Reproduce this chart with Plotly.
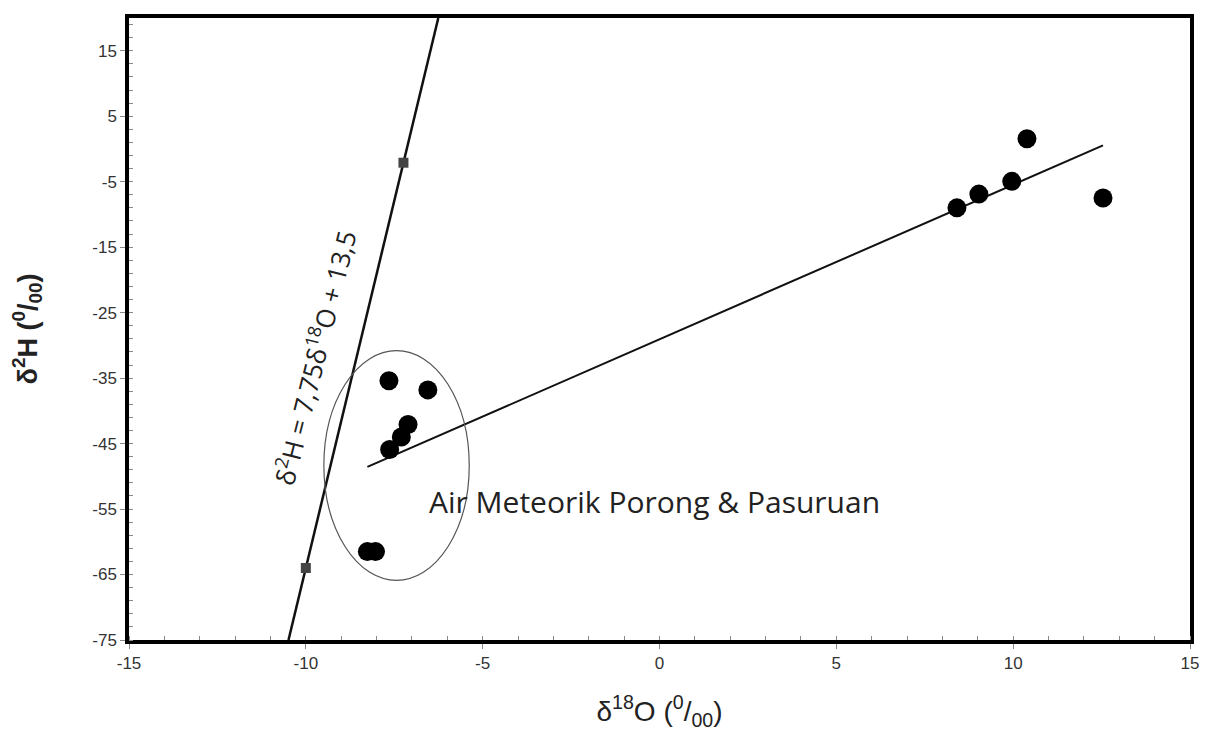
import numpy as np
import plotly.graph_objects as go

# Sample data (delta 18O, delta 2H)
sample_d18O = [-7.65, -6.55, -7.11, -7.30, -7.63, -8.26, -8.03,
               8.41, 9.03, 9.96, 10.39, 12.54]
sample_d2H = [-35.4, -36.8, -42.1, -44.0, -45.9, -61.5, -61.5,
              -9.0, -6.9, -4.95, 1.55, -7.5]

# Meteoric water line reference points
mwl_d18O = [-10.0, -7.24]
mwl_d2H = [-64.0, -2.1]

x_range = [-15, 15]
y_range = [-75, 20]
x_ticks = [-15, -10, -5, 0, 5, 10, 15]
x_ticklabels = ["-15", "-10", "-5", "0", "5", "10", "15"]
y_ticks = [15, 5, -5, -15, -25, -35, -45, -55, -65, -75]
y_ticklabels = ["15", "5", "-5", "-15", "-25", "-35", "-45", "-55", "-65", "-75"]

# MWL line extended across the plot (fit through reference points)
m1, b1 = np.polyfit(mwl_d18O, mwl_d2H, 1)
mwl_line_y = np.array(y_range, dtype=float)
mwl_line_x = (mwl_line_y - b1) / m1

# Regression of samples
m2, b2 = np.polyfit(sample_d18O, sample_d2H, 1)
reg_x = np.array([min(sample_d18O), max(sample_d18O)])
reg_y = m2 * reg_x + b2

fig = go.Figure()
fig.add_trace(go.Scatter(x=mwl_line_x, y=mwl_line_y, mode="lines",
                         line=dict(color="#111111", width=2.5), showlegend=False))
fig.add_trace(go.Scatter(x=mwl_d18O, y=mwl_d2H, mode="markers",
                         marker=dict(symbol="square", size=10, color="#444444"),
                         showlegend=False))
fig.add_trace(go.Scatter(x=reg_x, y=reg_y, mode="lines",
                         line=dict(color="#111111", width=2), showlegend=False))
fig.add_trace(go.Scatter(x=sample_d18O, y=sample_d2H, mode="markers",
                         marker=dict(symbol="circle", size=19, color="#000000"),
                         showlegend=False))

# Ellipse around meteoric samples
fig.add_shape(type="circle", xref="x", yref="y", x0=-9.49, x1=-5.38, y0=-65.9, y1=-30.8,
              line=dict(color="#555555", width=1.2))

fig.add_annotation(x=-0.14, y=-53.8, xref="x", yref="y", text="Air Meteorik Porong & Pasuruan",
                   showarrow=False, font=dict(family="Open Sans", size=30, color="#222222"))
fig.add_annotation(x=-9.76, y=-31.9, xref="x", yref="y",
                   text="δ<sup>2</sup>H = 7,75δ<sup>18</sup>O + 13,5",
                   showarrow=False, textangle=-76,
                   font=dict(family="Open Sans", size=26, color="#222222"))

axis_common = dict(showgrid=False, zeroline=False, showline=True, linecolor="#000000",
                   linewidth=3.5, mirror=True, ticks="outside", tickcolor="#888888",
                   ticklen=5, tickwidth=1,
                   tickfont=dict(family="Arial", size=17, color="#333333"))

fig.update_xaxes(range=x_range, tickmode="array", tickvals=x_ticks, ticktext=x_ticklabels,
                 minor=dict(ticks="inside", dtick=1, tick0=-15, ticklen=4, tickcolor="#888888"),
                 title=dict(text="δ<sup>18</sup>O (<sup>0</sup>/<sub>00</sub>)",
                            font=dict(family="Arial", size=28, color="#222222"), standoff=30),
                 **axis_common)
fig.update_yaxes(range=y_range, tickmode="array", tickvals=y_ticks, ticktext=y_ticklabels,
                 minor=dict(ticks="inside", dtick=2, tick0=-75, ticklen=4, tickcolor="#888888"),
                 title=dict(text="<b>δ<sup>2</sup>H (<sup>0</sup>/<sub>00</sub>)</b>",
                            font=dict(family="Arial", size=27, color="#222222"), standoff=48),
                 **axis_common)

fig.update_layout(width=1199, height=723, margin=dict(l=121, r=17, t=6, b=91),
                  plot_bgcolor="white", paper_bgcolor="white")

fig.write_html("out.html")
